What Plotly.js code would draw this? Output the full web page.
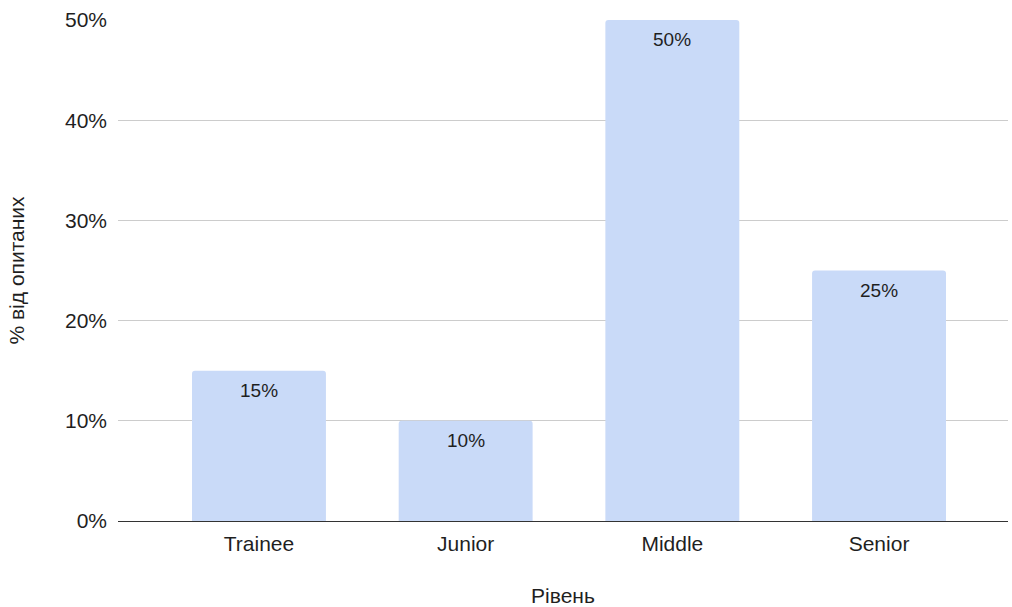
<!DOCTYPE html>
<html>
<head>
<meta charset="utf-8">
<script src="https://cdn.plot.ly/plotly-3.0.1.min.js"></script>
<style>html,body{margin:0;padding:0;background:#fff;}#chart{width:1012px;height:607px;}</style>
</head>
<body>
<div id="chart"></div>
<script>
const categories = ["Trainee", "Junior", "Middle", "Senior"];
const values = [0.15, 0.10, 0.50, 0.25];
const labels = ["15%", "10%", "50%", "25%"];
const yTickVals = [0, 0.1, 0.2, 0.3, 0.4, 0.5];
const yTickText = ["0%", "10%", "20%", "30%", "40%", "50%"];
const xTitle = "Рівень";
const yTitle = "% від опитаних";

const font = "Liberation Sans, Arial, Helvetica, sans-serif";
const txt = "#1f1f1f";

const trace = {
  type: "bar",
  x: categories.map((_, i) => i),
  y: values,
  marker: {color: "#c9daf8", cornerradius: 3},
  hoverinfo: "skip"
};

const annotations = values.map((v, i) => ({
  x: i, y: v, xref: "x", yref: "y",
  text: labels[i], showarrow: false,
  xanchor: "center", yanchor: "top", yshift: -7,
  font: {family: font, size: 19, color: txt}
}));

const layout = {
  width: 1012, height: 607,
  margin: {l: 118, r: 4, t: 20, b: 86},
  paper_bgcolor: "#fff", plot_bgcolor: "#fff",
  showlegend: false,
  bargap: 0.352,
  font: {family: font, size: 21, color: txt},
  annotations: annotations,
  xaxis: {
    range: [-0.682, 3.624],
    tickvals: categories.map((_, i) => i),
    ticktext: categories,
    showgrid: false, zeroline: false,
    showline: true, linecolor: "#333", linewidth: 1,
    ticks: "", ticklen: 0,
    ticklabelstandoff: 4,
    tickfont: {family: font, size: 21, color: txt},
    title: {text: xTitle, font: {family: font, size: 21, color: txt}, standoff: 37}
  },
  yaxis: {
    range: [0, 0.5],
    tickvals: yTickVals,
    ticktext: yTickText,
    showgrid: true, gridcolor: "#cccccc", gridwidth: 1,
    zeroline: false, showline: false,
    ticks: "", ticklen: 0,
    ticklabelstandoff: 10,
    tickfont: {family: font, size: 21, color: txt},
    title: {text: yTitle, font: {family: font, size: 21, color: txt}, standoff: 34}
  }
};

Plotly.newPlot("chart", [trace], layout, {displayModeBar: false, staticPlot: true});
</script>
</body>
</html>
